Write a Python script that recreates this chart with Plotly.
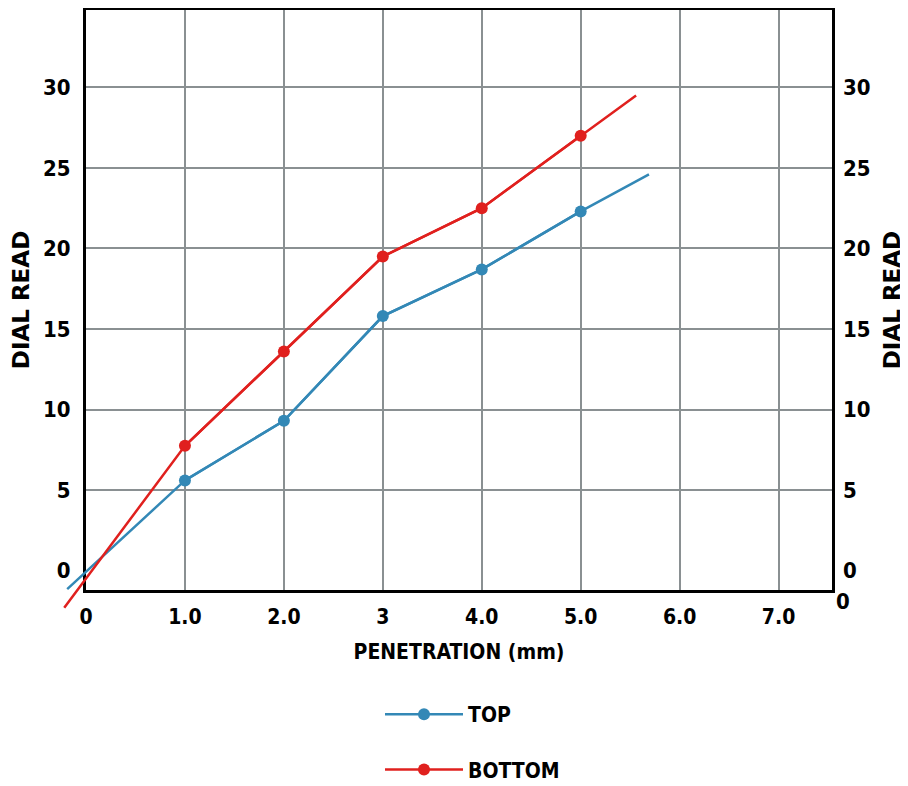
import plotly.graph_objects as go

# readings taken off the chart
pen_top = [-0.19, 1.0, 2.0, 3.0, 4.0, 5.0, 5.69]
dial_top = [-1.15, 5.6, 9.3, 15.8, 18.7, 22.3, 24.6]
pen_bottom = [-0.22, 1.0, 2.0, 3.0, 4.0, 5.0, 5.56]
dial_bottom = [-2.3, 7.75, 13.6, 19.5, 22.5, 27.0, 29.5]

x_ticks = [0, 1, 2, 3, 4, 5, 6, 7]
x_labels = ["0", "1.0", "2.0", "3", "4.0", "5.0", "6.0", "7.0"]
y_ticks = [0, 5, 10, 15, 20, 25, 30]

BLUE = "#3388b6"
RED = "#e0201e"
GRID = "#8a9092"
NARROW = "Liberation Sans Narrow, DejaVu Sans Condensed, sans-serif"
WIDE = "DejaVu Sans, Verdana, sans-serif"

OFF = 8  # page body margin
W, H = 908 - OFF, 786 - OFF
ml, mr, mt, mb = 58 - OFF, 908 - 832, 10 - OFF, 786 - 612
# frame (visible axes) sits inside the plot region, lines may poke out of it
frame_l, frame_r, frame_t, frame_b = 86 - OFF, 832 - OFF, 10 - OFF, 590 - OFF
x_rng = [0, 7.54]
y_rng = [-1.2, 34.8]

pw, ph = W - ml - mr, H - mt - mb
xdom = [(frame_l - ml) / pw, (frame_r - ml) / pw]
ydom = [(mt + ph - frame_b) / ph, (mt + ph - frame_t) / ph]
# wider data axes with the same scale as the frame axes
sx = (x_rng[1] - x_rng[0]) / (xdom[1] - xdom[0])
sy = (y_rng[1] - y_rng[0]) / (ydom[1] - ydom[0])
x2_rng = [x_rng[0] - xdom[0] * sx, x_rng[1] + (1 - xdom[1]) * sx]
y2_rng = [y_rng[0] - ydom[0] * sy, y_rng[1] + (1 - ydom[1]) * sy]

fig = go.Figure()
# empty traces so the frame axes and the right-hand axis get drawn
fig.add_trace(go.Scatter(x=[], y=[], xaxis="x", yaxis="y", showlegend=False))
fig.add_trace(go.Scatter(x=[], y=[], xaxis="x", yaxis="y3", showlegend=False))
for name, xs, ys, col in [("TOP", pen_top, dial_top, BLUE),
                          ("BOTTOM", pen_bottom, dial_bottom, RED)]:
    fig.add_trace(go.Scatter(x=xs, y=ys, mode="lines", xaxis="x2", yaxis="y2",
                             line=dict(color=col, width=2.5), showlegend=False,
                             legendgroup=name, hoverinfo="skip"))
    fig.add_trace(go.Scatter(x=xs[1:-1], y=ys[1:-1], mode="lines+markers", name=name,
                             xaxis="x2", yaxis="y2", legendgroup=name,
                             line=dict(color=col, width=2.5),
                             marker=dict(color=col, size=12)))

fig.update_layout(
    width=W, height=H,
    margin=dict(l=ml, r=mr, t=mt, b=mb, autoexpand=False),
    paper_bgcolor="white", plot_bgcolor="rgba(0,0,0,0)",
    font=dict(family=NARROW, size=21, color="black", weight="bold"),
    xaxis=dict(domain=xdom, range=x_rng, tickvals=x_ticks, ticktext=x_labels,
               showgrid=True, gridcolor=GRID, gridwidth=2, zeroline=False,
               showline=True, mirror=True, linecolor="black", linewidth=3,
               ticks="", ticklabelstandoff=6,
               title=dict(text="PENETRATION (mm)", font=dict(size=21), standoff=17)),
    yaxis=dict(domain=ydom, range=y_rng, tickvals=y_ticks, showgrid=False,
               minor=dict(tickvals=y_ticks[1:], showgrid=True, gridcolor=GRID, gridwidth=2),
               zeroline=False, showline=True, mirror=True, linecolor="black", linewidth=3,
               ticks="", ticklabelstandoff=8, tickfont=dict(size=22),
               title=dict(text="DIAL READ", standoff=12, font=dict(family=WIDE, size=23))),
    yaxis3=dict(overlaying="y", side="right", anchor="x", range=y_rng, tickvals=y_ticks,
                showgrid=False, zeroline=False, ticks="", ticklabelstandoff=10,
                tickfont=dict(size=22),
                title=dict(text="DIAL READ", standoff=14, font=dict(family=WIDE, size=23))),
    xaxis2=dict(domain=[0, 1], range=x2_rng, visible=False, anchor="y2"),
    yaxis2=dict(domain=[0, 1], range=y2_rng, visible=False, anchor="x2"),
    legend=dict(x=(380 - OFF - ml) / pw, xanchor="left",
                y=-(694 - OFF - mt - ph) / ph, yanchor="top",
                traceorder="grouped", tracegroupgap=25, itemwidth=78,
                font=dict(size=21), bgcolor="rgba(0,0,0,0)"),
    annotations=[dict(text="0", xref="paper", yref="paper",
                      x=(843 - OFF - ml) / pw, y=(mt + ph - (601 - OFF)) / ph,
                      xanchor="center", yanchor="middle",
                      showarrow=False, font=dict(size=22))],
)

fig.write_html("out.html")
